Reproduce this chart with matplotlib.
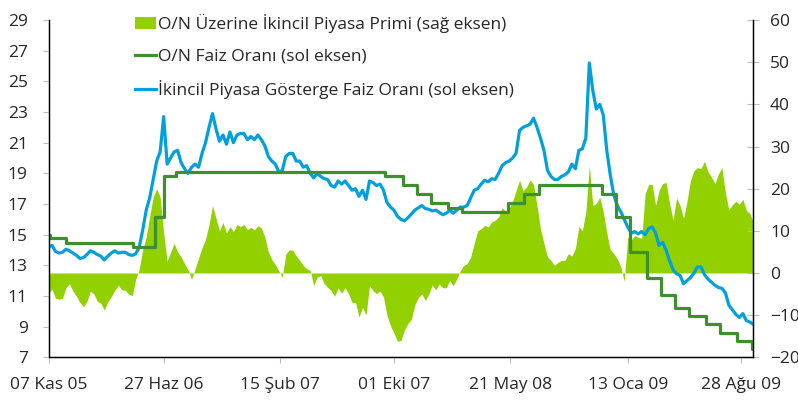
import matplotlib
matplotlib.use("Agg")
import matplotlib.pyplot as plt
from matplotlib.patches import Patch
from matplotlib.lines import Line2D
import pandas as pd

plt.rcParams['font.family'] = ['Open Sans', 'DejaVu Sans']

# haftalik gozlemler
dates = pd.date_range('2005-11-07', periods=203, freq='7D')

# Ikincil piyasa gosterge faiz orani (sol eksen)
benchmark = [
    14.2, 14.3, 13.9, 13.8, 13.85, 14.05, 13.95, 13.8, 13.65, 13.45,
    13.5, 13.7, 13.95, 13.85, 13.7, 13.6, 13.35, 13.6, 13.8, 13.95,
    13.8, 13.85, 13.85, 13.7, 13.65, 13.75, 14.2, 15.3, 16.6, 17.4,
    18.6, 19.8, 20.4, 22.7, 19.6, 20.0, 20.4, 20.5, 19.7, 19.3,
    19.0, 19.4, 19.6, 19.4, 20.3, 21.0, 22.0, 22.9, 21.9, 21.1,
    21.5, 20.9, 21.7, 21.0, 21.5, 21.6, 21.6, 21.2, 21.4, 21.2,
    21.5, 21.2, 20.8, 20.1, 19.8, 19.6, 19.1, 19.2, 20.1, 20.3,
    20.3, 19.8, 19.8, 19.4, 19.5, 19.0, 18.7, 19.0, 18.8, 18.65,
    18.6, 18.2, 18.1, 18.5, 18.3, 18.5, 18.2, 17.9, 18.0, 17.5,
    17.9, 17.3, 18.5, 18.4, 18.2, 18.3, 17.9, 17.1, 16.8, 16.6,
    16.2, 16.0, 15.9, 16.1, 16.35, 16.6, 16.75, 16.9, 16.7, 16.65,
    16.55, 16.6, 16.45, 16.3, 16.4, 16.6, 16.4, 16.6, 16.8, 16.8,
    16.9, 17.4, 17.9, 18.0, 18.3, 18.55, 18.45, 18.65, 18.6, 19.0,
    19.5, 19.7, 19.8, 20.0, 20.3, 21.8, 22.0, 22.1, 22.2, 22.6,
    22.0, 21.3, 20.5, 19.2, 18.8, 18.6, 18.6, 18.8, 18.9, 19.1,
    19.6, 19.3, 20.5, 20.6, 21.3, 26.2, 24.4, 23.2, 23.5, 22.8,
    20.5, 18.9, 17.6, 16.9, 16.5, 16.0, 15.5, 15.1, 15.2, 15.05,
    15.2, 15.0, 15.4, 15.5, 15.1, 14.3, 14.5, 14.0, 13.3, 12.7,
    12.45, 12.35, 11.8, 12.0, 12.2, 12.5, 12.9, 12.9, 12.4, 12.1,
    11.9, 11.7, 11.55, 11.5, 11.2, 10.4, 10.1, 9.8, 9.6, 9.85,
    9.4, 9.3, 9.15,
]

# O/N uzerine ikincil piyasa primi (sag eksen)
premium = [
    -4.9, -3.8, -6.0, -6.2, -6.0, -3.5, -2.5, -4.3, -5.5, -7.0,
    -8.0, -6.8, -4.3, -5.0, -6.7, -7.2, -8.8, -6.8, -5.6, -4.1,
    -2.9, -4.0, -4.1, -5.0, -5.4, -1.5, 1.0, 5.5, 8.6, 13.5,
    18.0, 20.0, 18.0, 9.5, 2.8, 5.0, 7.0, 5.0, 3.8, 2.2,
    0.8, -1.5, 1.0, 3.5, 6.0, 8.0, 11.5, 16.0, 13.0, 10.0,
    12.0, 9.5, 11.0, 9.8, 11.5, 11.0, 11.5, 10.3, 10.8, 10.2,
    11.2, 10.7, 8.5, 5.0, 3.2, 2.0, 0.5, -1.0, 4.5, 5.5,
    5.4, 4.0, 3.0, 1.8, 1.0, 0.6, -3.0, -1.0, -0.6, -2.5,
    -3.4, -4.2, -5.5, -3.5, -4.8, -3.5, -4.9, -7.0, -7.0, -10.5,
    -8.1, -10.0, -3.0, -4.2, -4.9, -4.3, -5.7, -10.0, -12.5, -14.2,
    -16.2, -16.0, -13.5, -12.0, -11.0, -7.5, -5.8, -5.0, -6.5, -5.0,
    -2.8, -4.0, -2.6, -3.5, -3.5, -1.8, -3.0, -1.4, 0.5, 1.8,
    2.2, 3.8, 7.0, 10.0, 10.5, 11.3, 10.9, 12.1, 12.5, 13.3,
    15.5, 14.5, 15.3, 17.0, 19.5, 22.0, 19.5, 20.4, 22.0, 21.0,
    16.0, 10.5, 7.0, 3.8, 3.0, 1.8, 2.5, 3.0, 3.0, 4.6,
    4.0, 5.8, 11.0, 10.0, 14.5, 25.5, 16.0, 16.5, 18.0, 14.5,
    9.5, 5.5, 4.6, 3.4, 1.5, -2.0, 8.5, 7.8, 8.9, 8.5,
    8.2, 18.8, 21.0, 21.0, 16.0, 19.6, 21.2, 21.5, 16.5, 12.5,
    17.8, 16.0, 13.0, 17.0, 22.0, 24.3, 25.0, 24.8, 26.5, 24.0,
    22.8, 21.2, 23.5, 25.0, 19.0, 15.0, 16.2, 17.0, 16.3, 17.5,
    14.9, 14.1, 12.1,
]

# O/N faiz orani (bilesik, sol eksen) - karar tarihleri
on_dates = pd.to_datetime([
    '2005-11-07', '2005-11-10', '2005-12-12', '2006-04-26', '2006-06-08',
    '2006-06-26', '2006-07-21', '2007-09-14', '2007-10-19', '2007-11-16',
    '2007-12-14', '2008-01-18', '2008-02-15', '2008-05-16', '2008-06-17',
    '2008-07-18', '2008-11-21', '2008-12-19', '2009-01-16', '2009-02-20',
    '2009-03-20', '2009-04-17', '2009-05-15', '2009-06-18', '2009-07-17',
    '2009-08-20', '2009-09-18', '2009-09-21',
])
on_rate = [
    15.0, 14.75, 14.45, 14.17, 16.18, 18.82, 19.12, 18.82, 18.23, 17.64,
    17.05, 16.76, 16.47, 17.05, 17.64, 18.23, 17.64, 16.18, 13.88, 12.19,
    11.07, 10.24, 9.69, 9.14, 8.60, 8.06, 7.52, 7.52,
]

tick_dates = pd.to_datetime(['2005-11-07', '2006-06-27', '2007-02-15', '2007-10-01',
                             '2008-05-21', '2009-01-13', '2009-08-28'])
tick_labels = ['07 Kas 05', '27 Haz 06', '15 Şub 07', '01 Eki 07',
               '21 May 08', '13 Oca 09', '28 Ağu 09']

label1 = "O/N Üzerine İkincil Piyasa Primi (sağ eksen)"
label2 = "O/N Faiz Oranı (sol eksen)"
label3 = "İkincil Piyasa Gösterge Faiz Oranı (sol eksen)"

c_area = '#92d000'
c_green = '#3f8f2f'
c_blue = '#00a0dc'
c_text = '#262626'
c_tick = '#bdbdbd'

fig = plt.figure(figsize=(7.98, 4.01), dpi=100)
ax = fig.add_axes([0.0608, 0.109, 0.8832, 0.841])
ax2 = ax.twinx()

ax2.fill_between(dates, 0, premium, color=c_area, lw=0)
ax.plot(dates, benchmark, color=c_blue, lw=2.3, solid_joinstyle='round')
ax.step(on_dates, on_rate, where='post', color=c_green, lw=2.3)

ax.set_zorder(ax2.get_zorder() + 1)
ax.patch.set_visible(False)

ax.set_xlim(pd.Timestamp('2005-11-07'), pd.Timestamp('2009-09-21'))
ax.set_ylim(7, 29)
ax2.set_ylim(-20, 60)
ax.set_yticks(range(7, 30, 2))
ax2.set_yticks(range(-20, 61, 10))
ax.set_xticks(tick_dates)
ax.set_xticklabels(tick_labels)

for a in (ax, ax2):
    a.spines['top'].set_visible(False)
    for s in ('left', 'right', 'bottom'):
        a.spines[s].set_color('black')
        a.spines[s].set_linewidth(0.9)

ax.tick_params(axis='y', direction='out', length=4, width=0.8, color=c_tick,
               labelsize=12.5, labelcolor=c_text, pad=11)
ax.tick_params(axis='x', direction='out', length=4, width=0.8, color=c_tick,
               labelsize=12.5, labelcolor=c_text, pad=10)
ax2.tick_params(axis='y', direction='inout', length=8, width=0.8, color=c_tick,
                labelsize=12.5, labelcolor=c_text, pad=8)

handles = [Patch(facecolor=c_area, edgecolor='none'),
           Line2D([], [], color=c_green, lw=2.3),
           Line2D([], [], color=c_blue, lw=2.3)]
fig.legend(handles, [label1, label2, label3], loc='upper left',
           bbox_to_anchor=(135 / 798, 1 - 14 / 401), frameon=False,
           fontsize=12.5, handlelength=1.2, handletextpad=0.15,
           labelspacing=0.9, borderpad=0, borderaxespad=0,
           labelcolor=c_text)

fig.savefig('out.png', dpi=100)
